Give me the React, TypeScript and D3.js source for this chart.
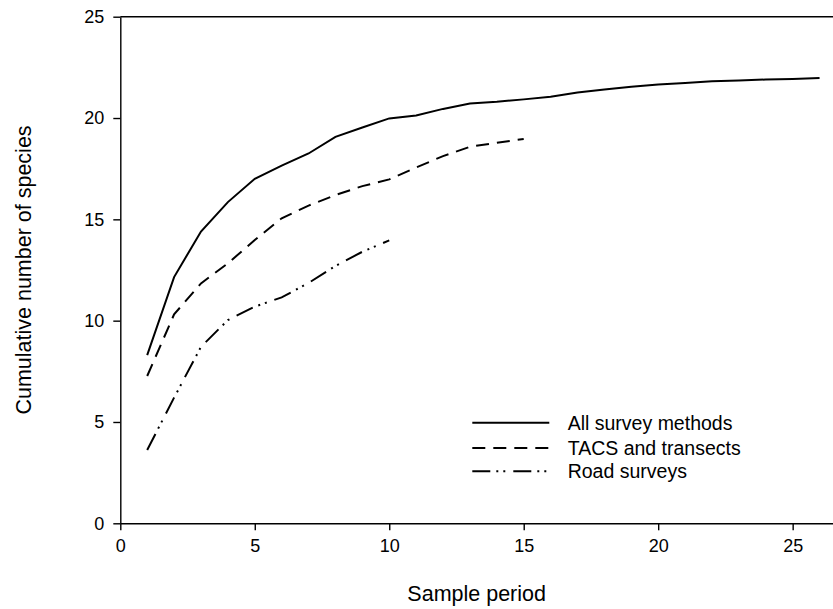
import * as d3 from 'd3'
import { useEffect, useRef } from 'react'

// cumulative species counts
const allPeriods = d3.range(1, 27)
const allMethods = [
	8.3, 12.15, 14.4, 15.85, 17.0, 17.65, 18.25, 19.07, 19.53, 19.98, 20.12, 20.45, 20.72,
	20.8, 20.92, 21.05, 21.26, 21.41, 21.54, 21.65, 21.73, 21.82, 21.85, 21.9, 21.93, 21.98,
]
const tacsPeriods = d3.range(1, 16)
const tacsTransects = [
	7.27, 10.31, 11.84, 12.83, 13.98, 15.05, 15.68, 16.2, 16.64, 16.97, 17.56, 18.12, 18.58,
	18.78, 18.97,
]
const roadPeriods = d3.range(1, 11)
const roadSurveys = [3.62, 6.2, 8.71, 10.03, 10.69, 11.15, 11.86, 12.7, 13.4, 13.96]

const xTicks = [0, 5, 10, 15, 20, 25]
const yTicks = [0, 5, 10, 15, 20, 25]

const seriesNames = ['All survey methods', 'TACS and transects', 'Road surveys']
const dashes = ['none', '13,8', '18,6,2,5,2,8']

const width = 833
const height = 609
const marginLeft = 120.3
const marginTop = 16.7
const marginBottom = 85.7
const font = 'Liberation Sans, Arial, sans-serif'

const App = () => {
	const svgRef = useRef<SVGSVGElement>(null)

	useEffect(() => {
		const svg = d3.select(svgRef.current)
		svg.selectAll('*').remove()

		const x = d3.scaleLinear().domain([0, 26.5]).range([marginLeft, width])
		const y = d3
			.scaleLinear()
			.domain([0, 25])
			.range([height - marginBottom, marginTop])

		const line = d3
			.line<[number, number]>()
			.x((d) => x(d[0]))
			.y((d) => y(d[1]))

		// top frame
		svg.append('line')
			.attr('x1', x(0))
			.attr('x2', width)
			.attr('y1', y(25))
			.attr('y2', y(25))
			.attr('stroke', '#000')
			.attr('stroke-width', 1.4)

		const xAxis = svg
			.append('g')
			.attr('transform', `translate(0,${y(0)})`)
			.call(d3.axisBottom(x).tickValues(xTicks).tickSize(7).tickSizeOuter(0).tickPadding(9))
		const yAxis = svg
			.append('g')
			.attr('transform', `translate(${x(0)},0)`)
			.call(d3.axisLeft(y).tickValues(yTicks).tickSize(7).tickSizeOuter(0).tickPadding(9))

		for (const g of [xAxis, yAxis]) {
			g.selectAll('path, line').attr('stroke', '#000').attr('stroke-width', 1.4)
			g.selectAll('text').attr('font-family', font).attr('font-size', 18).attr('fill', '#000')
		}

		const series: [number[], number[]][] = [
			[allPeriods, allMethods],
			[tacsPeriods, tacsTransects],
			[roadPeriods, roadSurveys],
		]
		series.forEach(([px, vals], i) => {
			svg.append('path')
				.datum(px.map((p, j) => [p, vals[j]] as [number, number]))
				.attr('d', line)
				.attr('fill', 'none')
				.attr('stroke', '#000')
				.attr('stroke-width', 2)
				.attr('stroke-dasharray', dashes[i])
		})

		// legend
		const legendY = [422.7, 448, 471.3]
		seriesNames.forEach((name, i) => {
			svg.append('line')
				.attr('x1', 472.3)
				.attr('x2', 549.3)
				.attr('y1', legendY[i])
				.attr('y2', legendY[i])
				.attr('stroke', '#000')
				.attr('stroke-width', 2)
				.attr('stroke-dasharray', dashes[i])
			svg.append('text')
				.attr('x', 567.7)
				.attr('y', legendY[i])
				.attr('dy', '0.35em')
				.attr('font-family', font)
				.attr('font-size', 19.5)
				.text(name)
		})

		svg.append('text')
			.attr('x', (marginLeft + width) / 2)
			.attr('y', 601)
			.attr('text-anchor', 'middle')
			.attr('font-family', font)
			.attr('font-size', 21.5)
			.text('Sample period')

		svg.append('text')
			.attr('transform', `translate(31,${(marginTop + height - marginBottom) / 2}) rotate(-90)`)
			.attr('text-anchor', 'middle')
			.attr('font-family', font)
			.attr('font-size', 21.5)
			.text('Cumulative number of species')
	}, [])

	return (
		<svg
			ref={svgRef}
			width={width}
			height={height}
			style={{ position: 'absolute', left: 0, top: 0, background: '#fff' }}
		></svg>
	)
}

export default App
